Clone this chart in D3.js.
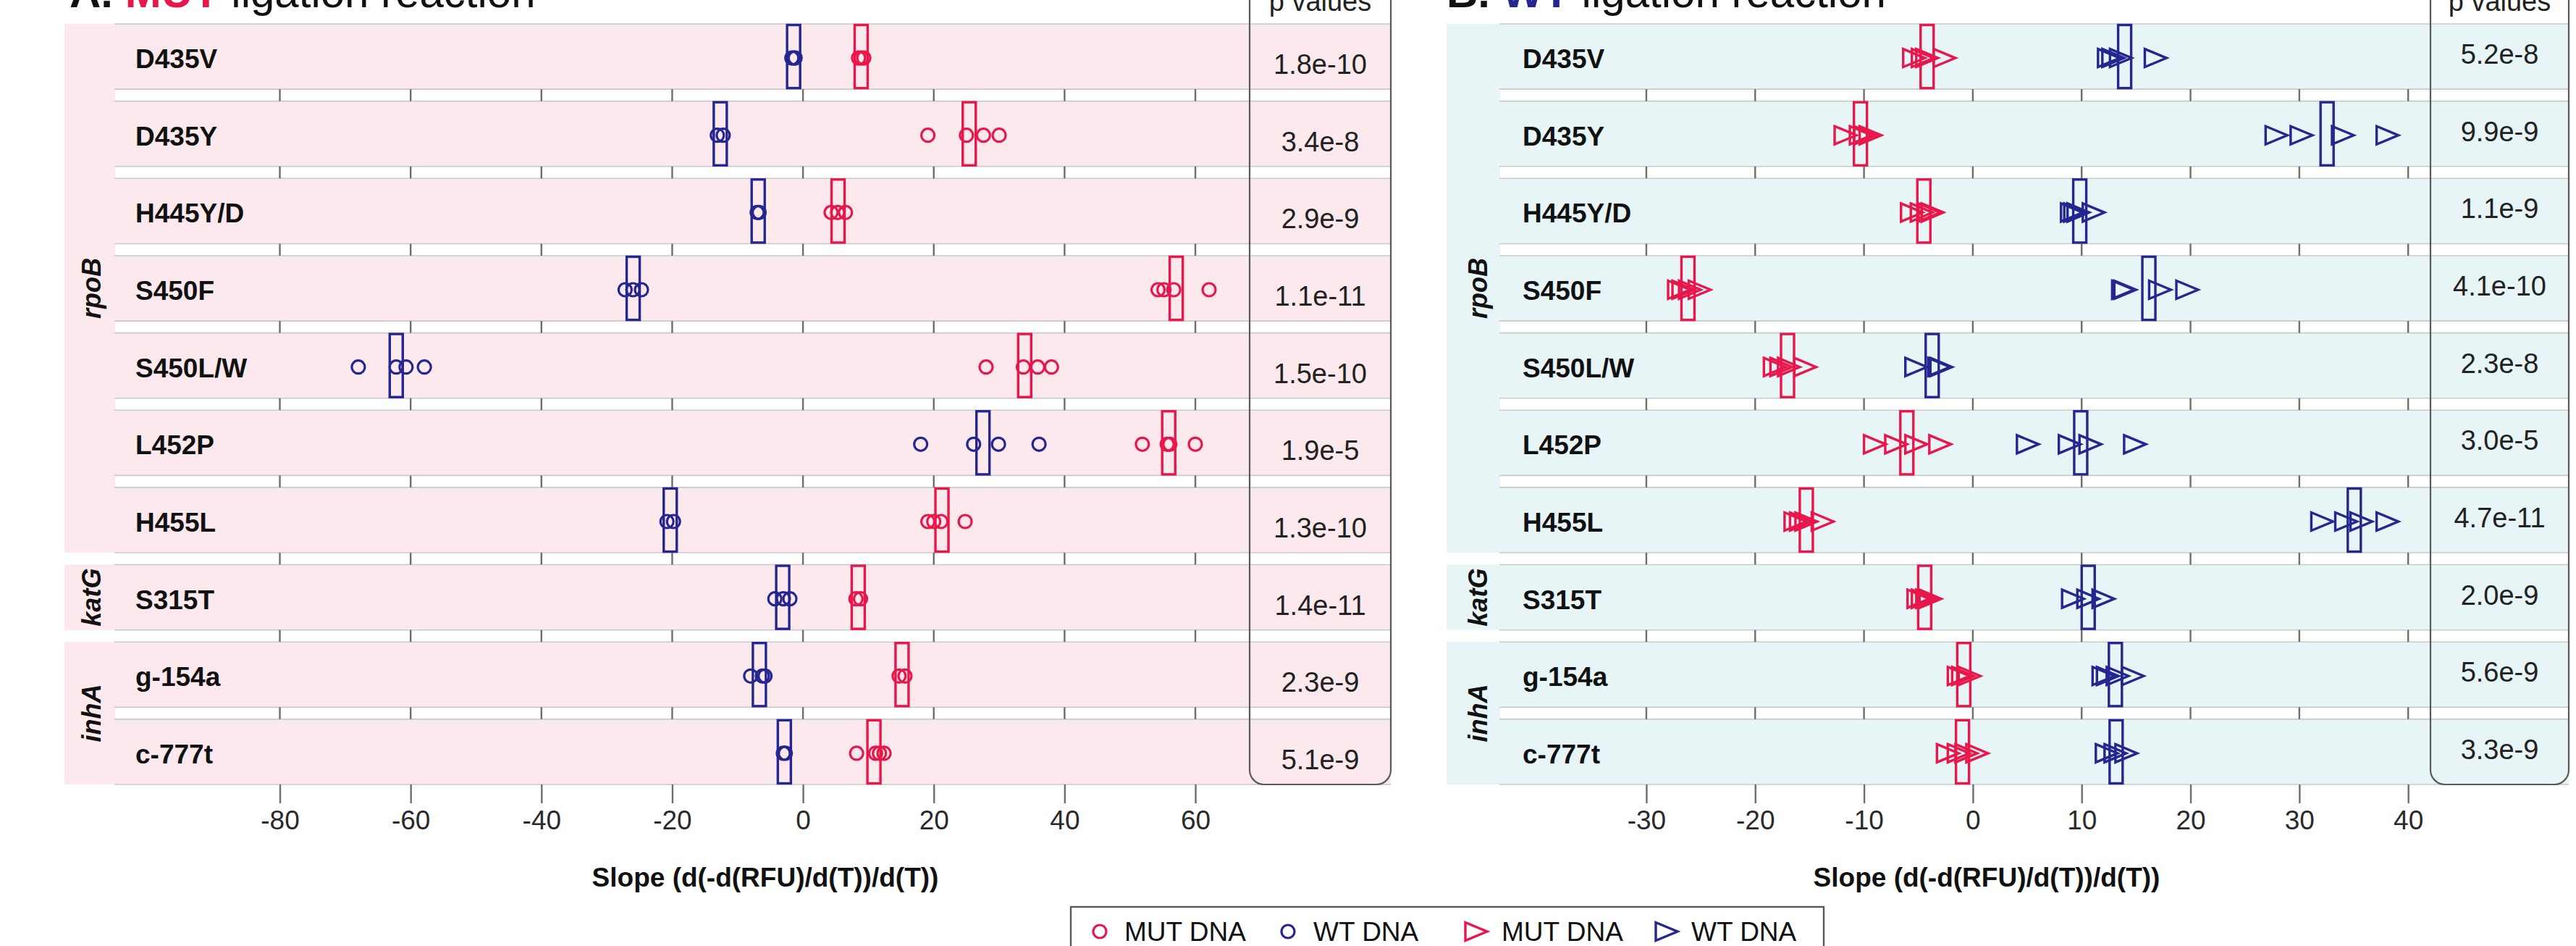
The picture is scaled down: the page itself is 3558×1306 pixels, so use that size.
<!DOCTYPE html>
<html>
<head>
<meta charset="utf-8">
<script src="https://cdn.jsdelivr.net/npm/d3@7"></script>
<style>
  html, body { margin: 0; padding: 0; background: #fff; }
  svg { display: block; font-family: "Liberation Sans", Arial, Helvetica, sans-serif; }
</style>
</head>
<body>
<svg id="chart" width="3558" height="1306"></svg>
<script>
// ---- data -------------------------------------------------------------
const mutations = ["D435V", "D435Y", "H445Y/D", "S450F", "S450L/W", "L452P", "H455L", "S315T", "g-154a", "c-777t"];
const genes     = ["rpoB", "rpoB", "rpoB", "rpoB", "rpoB", "rpoB", "rpoB", "katG", "inhA", "inhA"];
const geneGroups = ["rpoB", "katG", "inhA"];

const xTicksA = [-80, -60, -40, -20, 0, 20, 40, 60];
const xTicksB = [-30, -20, -10, 0, 10, 20, 30, 40];

const pValuesMutLig = ["1.8e-10", "3.4e-8", "2.9e-9", "1.1e-11", "1.5e-10", "1.9e-5", "1.3e-10", "1.4e-11", "2.3e-9", "5.1e-9"];
const pValuesWtLig  = ["5.2e-8", "9.9e-9", "1.1e-9", "4.1e-10", "2.3e-8", "3.0e-5", "4.7e-11", "2.0e-9", "5.6e-9", "3.3e-9"];

// A. MUT ligation reaction: replicate slopes per mutation
const mutLigMutDNA = [
  [8.5, 8.9, 9.3], [19.1, 25.0, 27.6, 30.0], [4.3, 5.3, 6.5], [54.3, 55.2, 56.7, 62.1],
  [28.0, 33.7, 35.9, 38.0], [51.9, 55.7, 56.1, 60.0], [19.1, 20.0, 21.1, 24.8],
  [8.1, 8.8], [14.7, 15.6], [8.2, 11.1, 11.7, 12.4]
];
const mutLigWtDNA = [
  [-1.7, -1.4, -1.2], [-13.1, -12.2], [-7.0, -6.7], [-27.2, -26.0, -24.7],
  [-68.0, -62.2, -60.7, -57.9], [18.0, 26.1, 29.9, 36.1], [-20.8, -19.8],
  [-4.3, -3.0, -2.0], [-8.0, -6.2, -5.8], [-3.0, -2.7]
];

// B. WT ligation reaction: replicate slopes per mutation
const wtLigMutDNA = [
  [-5.4, -4.6, -4.2, -2.6], [-11.7, -10.3, -9.9, -9.4], [-5.6, -4.7, -4.0, -3.7], [-27.0, -26.6, -26.0, -25.1],
  [-18.2, -17.6, -16.9, -15.4], [-9.0, -7.05, -5.2, -3.0], [-16.3, -15.8, -15.3, -13.8],
  [-5.0, -4.6, -4.2, -3.9], [-1.3, -0.9, -0.3], [-2.3, -1.3, -0.6, 0.4]
];
const wtLigWtDNA = [
  [12.5, 12.9, 13.6, 16.8], [27.9, 30.2, 34.0, 38.1], [9.1, 9.4, 9.7, 11.1], [13.8, 14.0, 17.2, 19.7],
  [-5.2, -3.1, -2.9], [5.05, 8.9, 10.8, 14.9], [32.1, 34.3, 35.7, 38.1],
  [9.2, 10.6, 12.0], [12.0, 12.4, 13.3, 14.7], [12.3, 13.1, 14.1]
];

const legendLabels = ["MUT DNA", "WT DNA", "MUT DNA", "WT DNA"];

// ---- styling ------------------------------------------------------------
const RED = "#e8174b";
const NAVY = "#262690";
const TICK = "#6e6e6e";
const FRAME = "#5a5a5a";

const svg = d3.select("#chart");

const y = d3.scaleBand().domain(mutations).range([33, 1083]).paddingInner(0.155).paddingOuter(0);
const bw = y.bandwidth();
const plotBottom = y(mutations[mutations.length - 1]) + bw;

const panels = [
  { letter: "A. ", strong: "MUT", strongColor: RED, rest: " ligation reaction",
    bg: "#fbe9ed", stripX: 89, plotX0: 158, plotX1: 1726, pX1: 1921,
    domain: [-105.3, 68.3], ticks: xTicksA, pvals: pValuesMutLig,
    mut: mutLigMutDNA, wt: mutLigWtDNA, shape: "circle",
    titleX: 96, axisTitleX: 1057, pOffset: 10, labelX: 187, stripLabelX: 126 },
  { letter: "B. ", strong: "WT", strongColor: NAVY, rest: " ligation reaction",
    bg: "#e7f5f7", stripX: 1998, plotX0: 2071, plotX1: 3357, pX1: 3548,
    domain: [-43.5, 42.05], ticks: xTicksB, pvals: pValuesWtLig,
    mut: wtLigMutDNA, wt: wtLigWtDNA, shape: "triangle",
    titleX: 1998, axisTitleX: 2744, pOffset: -4, labelX: 2103, stripLabelX: 2041 }
];

const triPath = "M-15,-12.5L15,0L-15,12.5Z";

function drawMarker(sel, shape, color) {
  if (shape === "circle") {
    sel.append("circle").attr("r", 9)
      .attr("fill", "none").attr("stroke", color).attr("stroke-width", 3.2);
  } else {
    sel.append("path").attr("d", triPath)
      .attr("fill", "none").attr("stroke", color).attr("stroke-width", 3.4)
      .attr("stroke-linejoin", "miter");
  }
}

panels.forEach(p => {
  const g = svg.append("g");
  const x = d3.scaleLinear().domain(p.domain).range([p.plotX0, p.plotX1]);

  // gene strip backgrounds
  geneGroups.forEach(gene => {
    const rows = mutations.filter((m, i) => genes[i] === gene);
    const top = y(rows[0]);
    const bot = y(rows[rows.length - 1]) + bw;
    g.append("rect").attr("x", p.stripX).attr("y", top)
      .attr("width", p.plotX0 - p.stripX + 1).attr("height", bot - top)
      .attr("fill", p.bg);
    g.append("text")
      .attr("transform", `translate(${p.stripLabelX},${(top + bot) / 2}) rotate(-90)`)
      .attr("text-anchor", "middle").attr("dominant-baseline", "central")
      .attr("font-size", 36).attr("font-weight", "bold").attr("font-style", "italic")
      .attr("fill", "#111").text(gene);
  });

  // row panels (extend under the p-value column)
  g.selectAll("rect.row").data(mutations).join("rect").attr("class", "row")
    .attr("x", p.plotX0).attr("y", d => y(d))
    .attr("width", p.pX1 - p.plotX0).attr("height", bw)
    .attr("fill", p.bg);
  g.selectAll("line.rowTop").data(mutations).join("line").attr("class", "rowTop")
    .attr("x1", p.plotX0).attr("x2", p.pX1)
    .attr("y1", d => y(d)).attr("y2", d => y(d))
    .attr("stroke", "#c9c9c9").attr("stroke-width", 1.6);
  g.selectAll("line.rowBot").data(mutations).join("line").attr("class", "rowBot")
    .attr("x1", p.plotX0).attr("x2", p.pX1)
    .attr("y1", d => y(d) + bw).attr("y2", d => y(d) + bw)
    .attr("stroke", "#c9c9c9").attr("stroke-width", 1.6);

  // tick marks inside the gaps between rows
  for (let i = 0; i < mutations.length - 1; i++) {
    const y1 = y(mutations[i]) + bw, y2 = y(mutations[i + 1]);
    g.append("g").selectAll("line").data(p.ticks).join("line")
      .attr("x1", d => x(d)).attr("x2", d => x(d))
      .attr("y1", y1).attr("y2", y2)
      .attr("stroke", TICK).attr("stroke-width", 2.4);
  }

  // bottom axis
  const axis = d3.axisBottom(x).tickValues(p.ticks).tickSize(26).tickPadding(10)
    .tickFormat(d3.format("d"));
  const ax = g.append("g").attr("transform", `translate(0,${plotBottom})`).call(axis);
  ax.select(".domain").remove();
  ax.selectAll(".tick line").attr("stroke", TICK).attr("stroke-width", 2.4);
  ax.selectAll(".tick text").attr("font-size", 37).attr("fill", "#2a2a2a")
    .attr("font-family", "Liberation Sans, Arial, sans-serif")
    .text(d => d < 0 ? "-" + Math.abs(d) : String(d));

  // row labels
  g.selectAll("text.rowLabel").data(mutations).join("text").attr("class", "rowLabel")
    .attr("x", p.labelX).attr("y", d => y(d) + bw / 2 + 16)
    .attr("font-size", 37).attr("font-weight", "bold").attr("fill", "#111")
    .text(d => d);

  // mean boxes and replicate points
  const series = [
    { vals: p.wt, color: NAVY },
    { vals: p.mut, color: RED }
  ];
  series.forEach(s => {
    g.append("g").selectAll("rect").data(mutations).join("rect")
      .attr("x", (d, i) => x(d3.mean(s.vals[i])) - 9)
      .attr("y", d => y(d) + 1.5)
      .attr("width", 18).attr("height", bw - 3)
      .attr("fill", "none").attr("stroke", s.color).attr("stroke-width", 3.4);
  });
  series.forEach(s => {
    mutations.forEach((m, i) => {
      const pts = g.append("g").selectAll("g").data(s.vals[i]).join("g")
        .attr("transform", d => `translate(${x(d)},${y(m) + bw / 2 + 2})`);
      drawMarker(pts, p.shape, s.color);
    });
  });

  // p-value column
  g.append("rect").attr("x", p.plotX1).attr("y", -40)
    .attr("width", p.pX1 - p.plotX1).attr("height", plotBottom + 40)
    .attr("rx", 20).attr("ry", 20)
    .attr("fill", "none").attr("stroke", FRAME).attr("stroke-width", 2.2);
  const pc = (p.plotX1 + p.pX1) / 2;
  g.append("text").attr("x", pc).attr("y", 15).attr("text-anchor", "middle")
    .attr("font-size", 38).attr("fill", "#222").text("p values");
  g.selectAll("text.pval").data(mutations).join("text").attr("class", "pval")
    .attr("x", pc).attr("y", d => y(d) + bw / 2 + p.pOffset + 14)
    .attr("text-anchor", "middle").attr("font-size", 38).attr("fill", "#222")
    .text((d, i) => p.pvals[i]);

  // panel title
  const t = g.append("text").attr("x", p.titleX).attr("y", 10).attr("font-size", 60).attr("fill", "#111");
  t.append("tspan").attr("font-weight", "bold").text(p.letter);
  t.append("tspan").attr("font-weight", "bold").attr("fill", p.strongColor).text(p.strong);
  t.append("tspan").text(p.rest);

  // axis title
  g.append("text").attr("x", p.axisTitleX).attr("y", 1224).attr("text-anchor", "middle")
    .attr("font-size", 37).attr("font-weight", "bold").attr("fill", "#111")
    .text("Slope (d(-d(RFU)/d(T))/d(T))");
});

// ---- legend -------------------------------------------------------------
const lg = svg.append("g");
lg.append("rect").attr("x", 1479).attr("y", 1252).attr("width", 1040).attr("height", 120)
  .attr("fill", "#fff").attr("stroke", FRAME).attr("stroke-width", 2.4);
const legendItems = [
  { shape: "circle", color: RED, cx: 1519, tx: 1553 },
  { shape: "circle", color: NAVY, cx: 1779, tx: 1814 },
  { shape: "triangle", color: RED, cx: 2039, tx: 2074 },
  { shape: "triangle", color: NAVY, cx: 2302, tx: 2336 }
];
legendItems.forEach((it, i) => {
  const m = lg.append("g").attr("transform", `translate(${it.cx},1286)`);
  drawMarker(m, it.shape, it.color);
  lg.append("text").attr("x", it.tx).attr("y", 1299).attr("font-size", 37).attr("fill", "#111")
    .text(legendLabels[i]);
});
</script>
</body>
</html>
